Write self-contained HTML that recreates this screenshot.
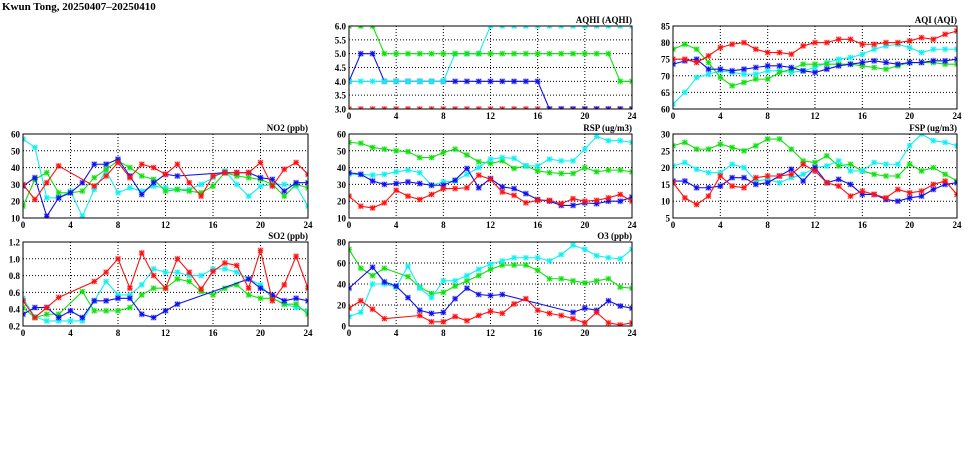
<!DOCTYPE html>
<html><head><meta charset="utf-8"><style>
body{margin:0;background:#fff;width:975px;height:447px;overflow:hidden}
text{font-family:"Liberation Serif",serif;font-weight:bold;fill:#000}
</style></head><body>
<svg id="s" width="975" height="447" xmlns="http://www.w3.org/2000/svg">
<text x="2" y="10" font-size="11">Kwun Tong, 20250407–20250410</text>
</svg>
<script>
const S=document.getElementById('s');const NS='http://www.w3.org/2000/svg';
function el(t,a,txt,par){const e=document.createElementNS(NS,t);for(const k in a)e.setAttribute(k,a[k]);if(txt!==undefined)e.textContent=txt;(par||S).appendChild(e);return e;}
const C={r:'#ff1010',g:'#10e010',c:'#10f0f0',b:'#1010ee'};
function arr(a){return a.map((v,i)=>v===null?null:[i,v]).filter(x=>x);}
let pid=0;
function P(x0,x1,y0,y1,ymin,ymax,step,title,series,dec){
  const X=h=>x0+(x1-x0)*h/24, Y=v=>y1-(y1-y0)*(v-ymin)/(ymax-ymin);
  for(let v=ymin;v<=ymax+1e-9;v+=step){const y=Y(v);
    if(v>ymin+1e-9&&v<ymax-1e-9)el('line',{x1:x0,x2:x1,y1:y,y2:y,stroke:'#000','stroke-width':1,'stroke-dasharray':'1,2'});
    el('text',{x:x0-3,y:y+3.5,'font-size':9,'text-anchor':'end'},v.toFixed(dec));}
  for(let h=0;h<=24;h+=4){const x=X(h);
    if(h>0&&h<24)el('line',{x1:x,x2:x,y1:y0,y2:y1,stroke:'#000','stroke-width':1,'stroke-dasharray':'1,2'});
    el('text',{x:x,y:y1+10,'font-size':9,'text-anchor':'middle'},h);}
  el('text',{x:x1,y:y0-3,'font-size':9,'text-anchor':'end'},title);
  const id='cp'+(pid++);
  const cp=el('clipPath',{id:id});el('rect',{x:x0,y:y0,width:x1-x0,height:y1-y0},undefined,cp);
  const g=el('g',{'clip-path':`url(#${id})`});
  for(const [col,pts] of series){
    el('polyline',{points:pts.map(p=>X(p[0])+','+Y(p[1])).join(' '),fill:'none',stroke:C[col],'stroke-width':1.1},undefined,g);
    for(const p of pts){const x=X(p[0]),y=Y(p[1]);
      el('rect',{x:x-3,y:y-3,width:6,height:6,fill:C[col],opacity:0.25},undefined,g);
      el('path',{d:`M${x-2.5} ${y}H${x+2.5}M${x} ${y-2.5}V${y+2.5}M${x-2.2} ${y-2.2}L${x+2.2} ${y+2.2}M${x-2.2} ${y+2.2}L${x+2.2} ${y-2.2}`,stroke:C[col],'stroke-width':1},undefined,g);}
  }
  el('rect',{x:x0,y:y0,width:x1-x0,height:y1-y0,fill:'none',stroke:'#000','stroke-width':1});
}
const c1=[23,308],c2=[349,632],c3=[673,957],r1=[26,109],r2=[134,218],r3=[242,326];
P(c2[0],c2[1],r1[0],r1[1],3,6,0.5,'AQHI (AQHI)',[
 ['r',arr(Array(25).fill(3))],
 ['b',arr([4,5,5,4,4,4,4,4,4,4,4,4,4,4,4,4,4,3,3,3,3,3,3,3,3])],
 ['c',arr([4,4,4,4,4,4,4,4,4,5,5,5,6,6,6,6,6,6,6,6,6,6,6,6,6])],
 ['g',arr([6,6,6,5,5,5,5,5,5,5,5,5,5,5,5,5,5,5,5,5,5,5,5,4,4])]],1);
P(c3[0],c3[1],r1[0],r1[1],60,85,5,'AQI (AQI)',[
 ['c',arr([61.5,65,69.5,70.5,71.5,71,70.5,70.5,71.5,71.5,71,71.5,72.5,74,75,75.5,76.5,78,79,79.5,78.5,77,78,78,78])],
 ['g',arr([78,79.5,78,74,69.5,67,68,69,69,71,72,73.5,73.5,73.5,73.5,73.5,73,72.5,72,73,74,74,74,73.5,73.5])],
 ['b',arr([73.5,74.5,75,72,72,71.5,72,72.5,73,73,72.5,71.5,71,72,73,73.5,74,74.5,74,73.5,74,74,74.5,74.5,75])],
 ['r',arr([75,75,74,76,78.5,79.5,80,78,77,77,76.5,79,80,80,81,81,79.5,79.5,80,80,80.5,81.5,81,82.5,83.5])]],0);
P(c1[0],c1[1],r2[0],r2[1],10,60,10,'NO2 (ppb)',[
 ['c',arr([57,52,22,22,26,11,27,38,25,28,26,29,28,27,27,30,34,38,30,23,29,30,30,29,17])],
 ['g',arr([17,33,37,25,25,26,34,39,44,40,35,33,26,27,26,25,29,37,35,34,33,30,23,30,28])],
 ['b',arr([29,34,11,22,25,31,42,42,45,35,24,31,36,35,null,null,null,37,37,37,34,33,26,31,31])],
 ['r',arr([30,21,31,41,null,null,29,35,43,34,42,40,36,42,31,23,35,37,37,37,43,29,39,43,36])]],0);
P(c2[0],c2[1],r2[0],r2[1],10,60,10,'RSP (ug/m3)',[
 ['g',arr([55,54.5,52,51,50,49.5,46,46,49,51,47.5,43.5,42.5,44,39.5,41,38,37,36.5,36.5,40,37.5,38.5,38.5,37.5])],
 ['c',arr([36,36,35.5,36,37.5,38.5,37,29.5,31.5,32,36,40,45,46,45.5,41,41,45,44,44,51,58.5,56,56,55])],
 ['b',arr([37,36,32,30,30.5,31.5,30.5,29.5,29.5,32.5,39.5,28,33.5,28.5,27.5,24.5,21,20,17.5,17.5,19,18.5,20,20,22.5])],
 ['r',arr([23,17,16,19,26.5,23,21,24,27.5,27.5,28,35.5,33,25.5,23.5,19,20.5,20.5,18.5,21.5,20,20.5,22,24,20])]],0);
P(c3[0],c3[1],r2[0],r2[1],5,30,5,'FSP (ug/m3)',[
 ['g',arr([26.5,27.5,25.5,25.5,27,26,25,26.5,28.5,28.5,25.5,22,21.5,23.5,20.5,21,19,18,17.5,17.5,21,19,20,18,16])],
 ['c',arr([20.5,21.5,19.5,18.5,18.5,21,20,16,16.5,15.5,17,18,20,20.5,22,19,19,21.5,21,21,26.5,30,28,27.5,26.5])],
 ['b',arr([16,16,14,14,14.5,17,17,15,15.5,17.5,19.5,16,20,15.5,16.5,15,12,12,10.5,10,11,11.5,13.5,15,15.5])],
 ['r',arr([15.5,11,9,11.5,17.5,14.5,14,17,17.5,17.5,18,21,19,15.5,14.5,11.5,13,12,11,13.5,12.5,13,15,16,12])]],0);
P(c1[0],c1[1],r3[0],r3[1],0.2,1.2,0.2,'SO2 (ppb)',[
 ['c',arr([0.53,0.31,0.26,0.26,0.26,0.26,0.5,0.73,0.57,0.57,0.69,0.88,0.84,0.84,0.8,0.8,0.88,0.88,0.84,0.76,0.69,0.53,0.46,0.42,0.38])],
 ['g',arr([0.42,0.3,0.34,0.34,null,0.61,0.38,0.38,0.38,0.42,0.57,0.65,0.65,0.76,0.73,0.61,0.57,0.65,0.69,0.57,0.53,0.53,0.46,0.46,0.34])],
 ['b',arr([0.34,0.42,0.42,0.3,0.38,0.3,0.5,0.5,0.53,0.53,0.34,0.3,0.38,0.46,null,null,null,null,null,0.76,0.65,0.57,0.5,0.53,0.5])],
 ['r',arr([0.5,0.3,0.42,0.54,null,null,0.73,0.84,1.0,0.65,1.07,0.8,0.65,1.0,0.84,0.64,0.85,0.95,0.92,0.65,1.1,0.5,0.69,1.03,0.65])]],1);
P(c2[0],c2[1],r3[0],r3[1],0,80,20,'O3 (ppb)',[
 ['g',arr([73,55,48,55,null,47,37,31,32,38,43,48,54,58,58,58,53,45,45,43,41,43,45,37,36])],
 ['c',arr([9,13,40,40,37,57,36,27,43,43,48,54,59,62,65,65,65,62,68,77,73,67,65,64,73])],
 ['b',arr([36,null,56,42,38,27,15,12,13,26,36,30,29,30,null,null,null,null,null,13,17,15,24,19,17])],
 ['r',arr([17,24,16,7,null,null,10,4,4,9,5,10,14,12,21,26,15,12,10,7,3,13,3,1,3])]],0);
</script>
</body></html>
